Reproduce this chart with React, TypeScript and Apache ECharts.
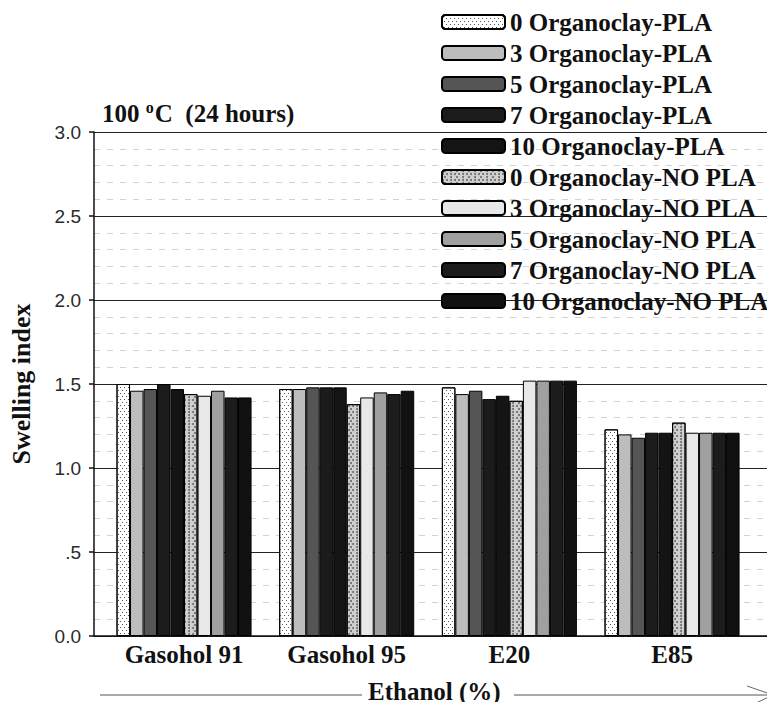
import React, { useEffect, useRef } from "react";
import * as echarts from "echarts";

const categories = ["Gasohol 91", "Gasohol 95", "E20", "E85"];
const seriesNames = [
  "0 Organoclay-PLA",
  "3 Organoclay-PLA",
  "5 Organoclay-PLA",
  "7 Organoclay-PLA",
  "10 Organoclay-PLA",
  "0 Organoclay-NO PLA",
  "3 Organoclay-NO PLA",
  "5 Organoclay-NO PLA",
  "7 Organoclay-NO PLA",
  "10 Organoclay-NO PLA",
];
const pla0 = [1.5, 1.47, 1.48, 1.23];
const pla3 = [1.46, 1.47, 1.44, 1.2];
const pla5 = [1.47, 1.48, 1.46, 1.18];
const pla7 = [1.5, 1.48, 1.41, 1.21];
const pla10 = [1.47, 1.48, 1.43, 1.21];
const noPla0 = [1.44, 1.38, 1.4, 1.27];
const noPla3 = [1.43, 1.42, 1.52, 1.21];
const noPla5 = [1.46, 1.45, 1.52, 1.21];
const noPla7 = [1.42, 1.44, 1.52, 1.21];
const noPla10 = [1.42, 1.46, 1.52, 1.21];
const seriesValues = [pla0, pla3, pla5, pla7, pla10, noPla0, noPla3, noPla5, noPla7, noPla10];
const yTicks = [0, 0.5, 1, 1.5, 2, 2.5, 3];

const serif = "'Liberation Serif', 'Times New Roman', serif";
const sans = "'Liberation Sans', Arial, sans-serif";

const fineDots = {
  symbol: "rect",
  symbolSize: 1,
  color: "#555",
  backgroundColor: "#ffffff",
  dashArrayX: [[1, 3], [0, 2, 1, 1]],
  dashArrayY: [1, 2],
  rotation: 0,
};
const denseDots = {
  symbol: "circle",
  symbolSize: 1,
  color: "#6a6a6a",
  backgroundColor: "#e6e6e6",
  dashArrayX: [[2, 1.5], [0, 1.75, 2, 1.75]],
  dashArrayY: [2, 1],
  rotation: 0,
};

const fills: any[] = [
  { color: "#ffffff", decal: fineDots },
  { color: "#bdbdbd" },
  { color: "#555555" },
  { color: "#1b1b1b" },
  { color: "#141414" },
  { color: "#d0d0d0", decal: denseDots },
  { color: "#e8e8e8" },
  { color: "#a0a0a0" },
  { color: "#1c1c1c" },
  { color: "#111111" },
];

export default function App() {
  const ref = useRef<HTMLDivElement>(null);
  useEffect(() => {
    if (!ref.current) return;
    const chart = echarts.init(ref.current, undefined, { renderer: "svg" });
    const top = 132;
    const bottom = 74;
    const option: any = {
      animation: false,
      backgroundColor: "#ffffff",
      title: {
        left: 97,
        top: 94,
        text: "{a|100 }{b|o}{a|C  (24 hours)}",
        textStyle: {
          rich: {
            a: { fontFamily: serif, fontWeight: "bold", fontSize: 25, color: "#111", lineHeight: 28 },
            b: {
              fontFamily: serif,
              fontWeight: "bold",
              fontSize: 16,
              color: "#111",
              lineHeight: 28,
              padding: [0, 1, 12, 0],
            },
          },
        },
      },
      legend: {
        orient: "vertical",
        left: 436,
        top: 4,
        itemWidth: 63,
        itemHeight: 14,
        itemGap: 5,
        data: seriesNames,
        textStyle: {
          fontFamily: serif,
          fontWeight: "bold",
          fontSize: 25,
          lineHeight: 26,
          color: "#111",
        },
      },
      grid: [
        { left: 83, right: 0, top, bottom },
        { left: 102.7, right: 21.6, top, bottom },
      ],
      xAxis: [
        {
          gridIndex: 0,
          type: "value",
          min: 0,
          max: 1,
          axisLine: { show: true, lineStyle: { color: "#111", width: 1.5 } },
          axisTick: { show: false },
          axisLabel: { show: false },
          splitLine: { show: false },
        },
        {
          gridIndex: 1,
          type: "category",
          data: categories,
          axisLine: { show: false },
          axisTick: { show: false },
          axisLabel: {
            margin: 6,
            fontFamily: serif,
            fontWeight: "bold",
            fontSize: 25,
            color: "#111",
          },
        },
      ],
      yAxis: [
        {
          gridIndex: 0,
          type: "value",
          min: yTicks[0],
          max: yTicks[yTicks.length - 1],
          interval: 0.5,
          name: "Swelling index",
          nameLocation: "middle",
          nameRotate: 90,
          nameGap: 60,
          nameTextStyle: { fontFamily: serif, fontWeight: "bold", fontSize: 26, color: "#111" },
          axisLine: { show: true, lineStyle: { color: "#111", width: 1.5 } },
          axisTick: { show: true, length: 5, lineStyle: { color: "#111", width: 1.5 } },
          axisLabel: {
            margin: 13,
            fontFamily: sans,
            fontSize: 19,
            color: "#2a2a2a",
            formatter: (v: number) => (v === 0.5 ? ".5" : v.toFixed(1)),
          },
          splitLine: { show: true, lineStyle: { color: "#222", width: 1.2 } },
          minorTick: { show: false, splitNumber: 5 },
          minorSplitLine: { show: true, lineStyle: { color: "#d2d2d2", type: [6, 7], width: 1 } },
        },
        {
          gridIndex: 1,
          type: "value",
          min: yTicks[0],
          max: yTicks[yTicks.length - 1],
          show: false,
          splitLine: { show: false },
        },
      ],
      series: seriesNames.map((name, i) => ({
        name,
        type: "bar",
        xAxisIndex: 1,
        yAxisIndex: 1,
        data: seriesValues[i],
        barGap: "0%",
        barCategoryGap: "17%",
        itemStyle: {
          color: fills[i].color,
          decal: fills[i].decal,
          borderColor: "#000",
          borderWidth: 1,
        },
      })),
      graphic: [
        {
          type: "text",
          left: 368,
          top: 679,
          style: {
            text: "Ethanol (%)",
            fontFamily: serif,
            fontWeight: "bold",
            fontSize: 25,
            fill: "#111",
          },
        },
        { type: "line", shape: { x1: 772, y1: 128, x2: 772, y2: 320 }, style: { stroke: "#222", lineWidth: 1.2 } },
        { type: "line", shape: { x1: 100, y1: 695, x2: 362, y2: 695 }, style: { stroke: "#555", lineWidth: 1 } },
        { type: "line", shape: { x1: 514, y1: 695, x2: 773, y2: 695 }, style: { stroke: "#555", lineWidth: 1 } },
        { type: "line", shape: { x1: 747, y1: 686, x2: 773, y2: 695 }, style: { stroke: "#666", lineWidth: 1 } },
        { type: "line", shape: { x1: 756, y1: 703, x2: 773, y2: 695 }, style: { stroke: "#666", lineWidth: 1 } },
      ],
    };
    chart.setOption(option);
    return () => chart.dispose();
  }, []);
  return <div ref={ref} style={{ width: 775, height: 710, margin: -8 }} />;
}
